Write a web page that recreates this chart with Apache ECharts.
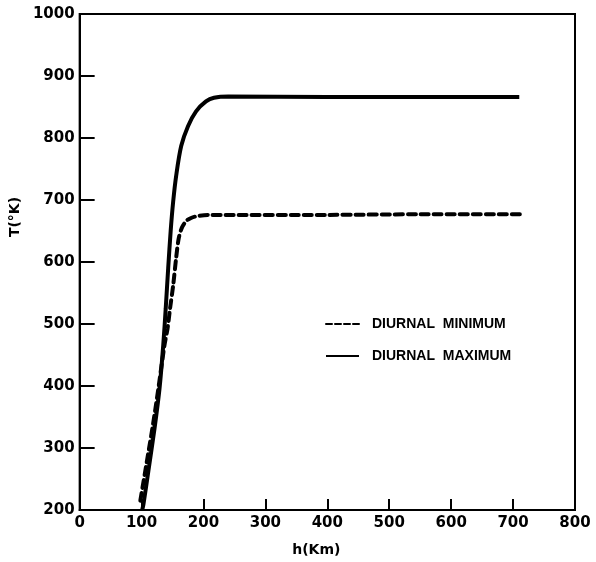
<!DOCTYPE html>
<html>
<head>
<meta charset="utf-8">
<script src="https://cdn.jsdelivr.net/npm/echarts@6/dist/echarts.min.js"></script>
<style>
  html, body { margin: 0; padding: 0; background: #fff; }
  #chart { width: 596px; height: 562px; }
</style>
</head>
<body>
<div id="chart"></div>
<script>
// altitude (km) and temperature (K)
var maxH = [101, 103, 111, 121, 129, 135, 139, 143, 147, 151, 156, 164, 175, 188, 204, 217, 240, 400, 550, 710];
var maxT = [200, 209, 263, 332, 396, 466, 525, 590, 650, 697, 740, 787, 819, 843, 859, 865, 867, 866, 866, 866];
var minH = [98, 108, 118, 127, 137, 142, 146, 151, 156, 160, 165, 172, 180, 190, 209, 400, 550, 711];
var minT = [215, 275, 335, 395, 466, 493, 525, 562, 608, 638, 655, 666, 671, 674, 676, 676, 677, 677];

function pairs(xs, ys) {
  var out = [];
  for (var i = 0; i < xs.length; i++) out.push([xs[i], ys[i]]);
  return out;
}

var font = "DejaVu Sans";
var chart = echarts.init(document.getElementById("chart"));
chart.setOption({
  backgroundColor: "#fff",
  animation: false,
  grid: {
    left: 74, right: 21, top: 14, bottom: 50,
    show: true, borderColor: "#000", borderWidth: 2
  },
  legend: {
    orient: "vertical",
    left: 320, top: 312,
    itemWidth: 33, itemHeight: 14, itemGap: 18,
    itemStyle: { opacity: 0 },
    textStyle: {
      fontFamily: "Liberation Sans", fontWeight: "bold", fontSize: 14,
      color: "#000", padding: [0, 0, 0, 8]
    },
    data: [
      { name: "DIURNAL  MINIMUM", lineStyle: { width: 2, type: [6, 3] } },
      { name: "DIURNAL  MAXIMUM", lineStyle: { width: 2 } }
    ]
  },
  xAxis: {
    type: "value", min: 0, max: 800, interval: 100,
    name: "h(Km)", nameLocation: "middle", nameGap: 33,
    nameTextStyle: { fontFamily: font, fontWeight: "bold", fontSize: 14, color: "#000", padding: [0, 22, 0, 0] },
    axisLine: { lineStyle: { color: "#000", width: 2 } },
    axisTick: { inside: true, length: 11, lineStyle: { color: "#000", width: 2 } },
    axisLabel: { margin: 6, fontFamily: font, fontWeight: "bold", fontSize: 15, color: "#000",
      formatter: function (v) { return String(v); } },
    splitLine: { show: false }
  },
  yAxis: {
    type: "value", min: 200, max: 1000, interval: 100,
    name: "T(°K)", nameLocation: "middle", nameGap: 52, nameRotate: 90,
    nameTextStyle: { fontFamily: font, fontWeight: "bold", fontSize: 14, color: "#000", padding: [0, 0, 0, 90] },
    axisLine: { lineStyle: { color: "#000", width: 2 } },
    axisTick: { inside: true, length: 15, lineStyle: { color: "#000", width: 2 } },
    axisLabel: { margin: 5, fontFamily: font, fontWeight: "bold", fontSize: 15, color: "#000",
      formatter: function (v) { return String(v); } },
    splitLine: { show: false }
  },
  series: [
    {
      name: "DIURNAL  MINIMUM", type: "line", smooth: 0.3,
      symbol: "none", data: pairs(minH, minT),
      itemStyle: { color: "#000" },
      lineStyle: { color: "#000", width: 4, type: [8, 5], cap: "round" }
    },
    {
      name: "DIURNAL  MAXIMUM", type: "line", smooth: 0.3,
      symbol: "none", data: pairs(maxH, maxT),
      itemStyle: { color: "#000" },
      lineStyle: { color: "#000", width: 4 }
    }
  ]
});
</script>
</body>
</html>
